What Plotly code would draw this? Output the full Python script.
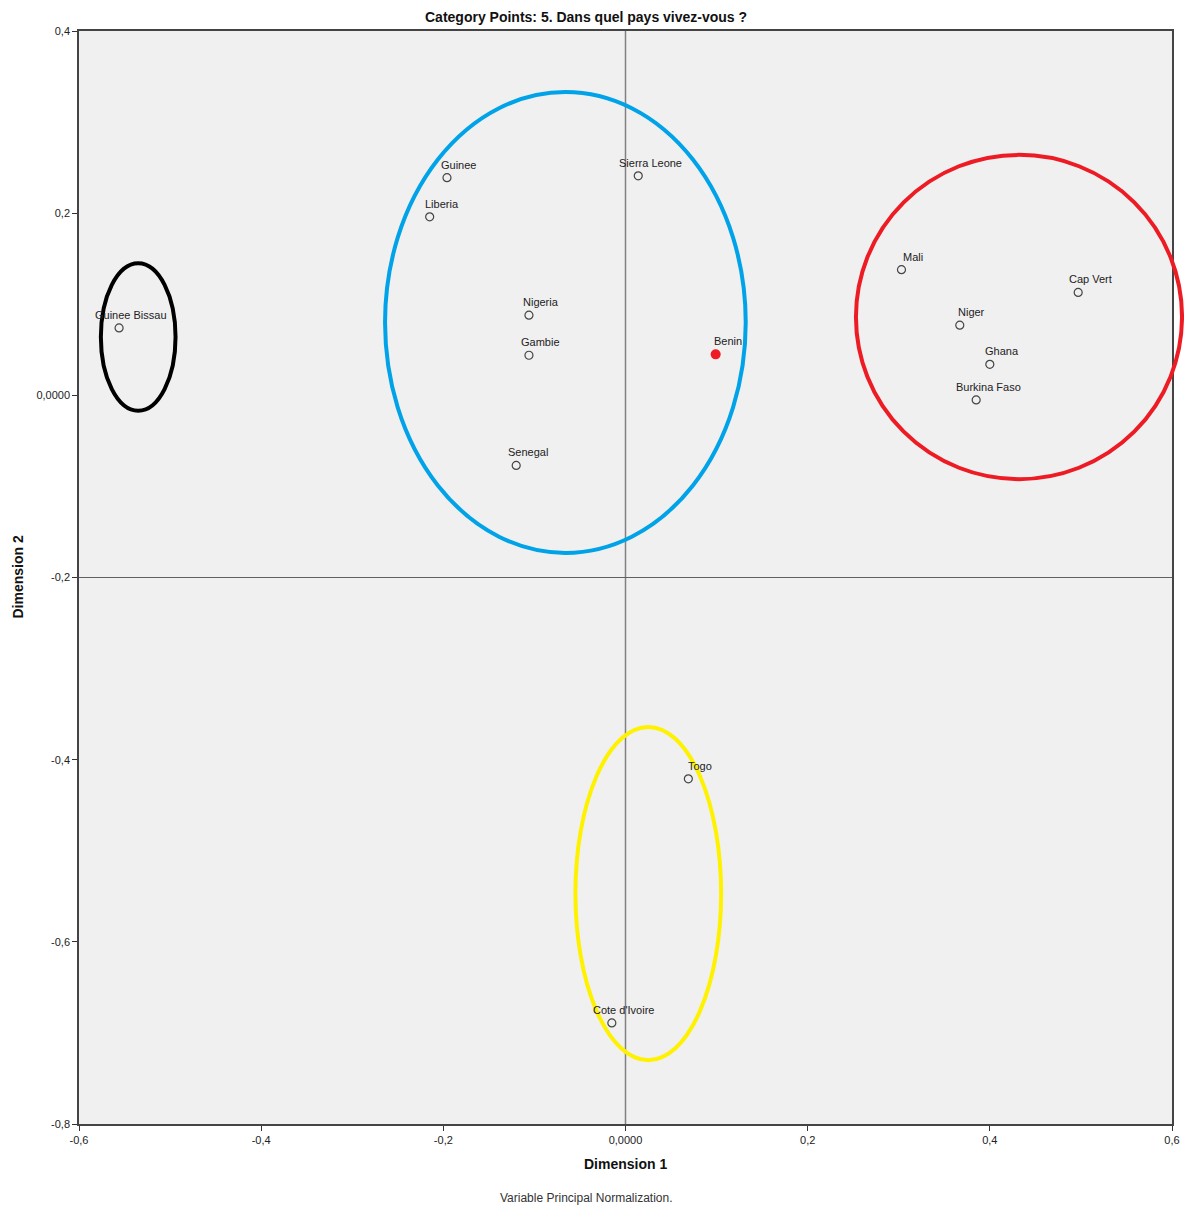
import plotly.graph_objects as go

countries = ["Guinee Bissau", "Guinee", "Liberia", "Sierra Leone", "Nigeria", "Gambie",
             "Senegal", "Benin", "Mali", "Cap Vert", "Niger", "Ghana", "Burkina Faso",
             "Togo", "Cote d'Ivoire"]
dim1 = [-0.556, -0.196, -0.215, 0.014, -0.106, -0.106, -0.120, 0.099, 0.303, 0.497,
        0.367, 0.400, 0.385, 0.069, -0.015]
dim2 = [0.074, 0.239, 0.196, 0.241, 0.088, 0.044, -0.077, 0.045, 0.138, 0.113,
        0.077, 0.034, -0.005, -0.421, -0.689]

tick_vals = [-0.6, -0.4, -0.2, 0.0, 0.2, 0.4, 0.6]
x_tick_text = ["-0,6", "-0,4", "-0,2", "0,0000", "0,2", "0,4", "0,6"]
y_tick_vals = [-0.8, -0.6, -0.4, -0.2, 0.0, 0.2, 0.4]
y_tick_text = ["-0,8", "-0,6", "-0,4", "-0,2", "0,0000", "0,2", "0,4"]

highlight = "Benin"

XR = [-0.6, 0.6]
YR = [-0.8, 0.4]

FONT = "Liberation Sans, Arial"

fig = go.Figure()

normal_x = [x for x, c in zip(dim1, countries) if c != highlight]
normal_y = [y for y, c in zip(dim2, countries) if c != highlight]
hl_x = [x for x, c in zip(dim1, countries) if c == highlight]
hl_y = [y for y, c in zip(dim2, countries) if c == highlight]

fig.add_trace(go.Scatter(x=normal_x, y=normal_y, mode="markers",
                         marker=dict(symbol="circle-open", size=8, color="#444444",
                                     line=dict(width=1.2)),
                         showlegend=False, cliponaxis=False, hoverinfo="skip"))
fig.add_trace(go.Scatter(x=hl_x, y=hl_y, mode="markers",
                         marker=dict(symbol="circle", size=10, color="#EE1C25",
                                     line=dict(width=0)),
                         showlegend=False, cliponaxis=False, hoverinfo="skip"))

for c, x, y in zip(countries, dim1, dim2):
    fig.add_annotation(x=x, y=y, text=c, showarrow=False, xshift=12, yshift=13,
                       font=dict(family=FONT, size=11, color="#222222"))

# reference lines
fig.add_shape(type="line", x0=0, x1=0, y0=YR[0], y1=YR[1], xref="x", yref="y",
              line=dict(color="#808080", width=1.5), layer="below")
fig.add_shape(type="line", x0=XR[0], x1=XR[1], y0=-0.2, y1=-0.2, xref="x", yref="y",
              line=dict(color="#606060", width=1.2), layer="below")


def px(v):
    return (v - XR[0]) / (XR[1] - XR[0])


def py(v):
    return (v - YR[0]) / (YR[1] - YR[0])


ellipses = [
    (-0.535, 0.064, 0.041, 0.081, "#000000"),
    (-0.066, 0.080, 0.198, 0.253, "#00A2E8"),
    (0.432, 0.086, 0.179, 0.178, "#ED1C24"),
    (0.025, -0.547, 0.080, 0.183, "#FFF200"),
]
for cx, cy, rx, ry, col in ellipses:
    fig.add_shape(type="circle", xref="paper", yref="paper",
                  x0=px(cx - rx), x1=px(cx + rx), y0=py(cy - ry), y1=py(cy + ry),
                  line=dict(color=col, width=4))

fig.add_annotation(x=0.464, y=1.0, xref="paper", yref="paper", yshift=14,
                   text="<b>Category Points: 5. Dans quel pays vivez-vous ?</b>",
                   showarrow=False, xanchor="center", yanchor="middle",
                   font=dict(family=FONT, size=14, color="#111111"))
fig.add_annotation(x=0.464, y=0, xref="paper", yref="paper", yshift=-74,
                   text="Variable Principal Normalization.",
                   showarrow=False, xanchor="center", yanchor="middle",
                   font=dict(family=FONT, size=12, color="#333333"))
fig.add_annotation(x=0.5, y=0, xref="paper", yref="paper", yshift=-40,
                   text="<b>Dimension 1</b>", showarrow=False,
                   xanchor="center", yanchor="middle",
                   font=dict(family=FONT, size=14, color="#111111"))
fig.add_annotation(x=0, y=0.5, xref="paper", yref="paper", xshift=-62,
                   text="<b>Dimension 2</b>", showarrow=False, textangle=-90,
                   xanchor="center", yanchor="middle",
                   font=dict(family=FONT, size=14, color="#111111"))

fig.update_layout(
    width=1184, height=1207,
    margin=dict(l=79, r=12, t=31, b=83, autoexpand=False),
    paper_bgcolor="white", plot_bgcolor="#F0F0F0",
    showlegend=False, hovermode=False,
    font=dict(family=FONT, size=11, color="#222222"),
)
fig.update_xaxes(range=XR, tickvals=tick_vals, ticktext=x_tick_text, ticks="outside",
                 ticklen=5, tickcolor="#333333", showgrid=False, zeroline=False,
                 showline=True, linecolor="#444444", linewidth=1.5, mirror=True,
                 automargin=False, tickfont=dict(size=11, color="#222222"))
fig.update_yaxes(range=YR, tickvals=y_tick_vals, ticktext=y_tick_text, ticks="outside",
                 ticklen=5, tickcolor="#333333", showgrid=False, zeroline=False,
                 showline=True, linecolor="#444444", linewidth=1.5, mirror=True,
                 automargin=False, tickfont=dict(size=11, color="#222222"))

# remove the default page margin so the figure fills the window exactly
fig.write_html("out.html", config={"displayModeBar": False},
               post_script="document.body.style.margin='0';document.body.style.overflow='hidden';")
